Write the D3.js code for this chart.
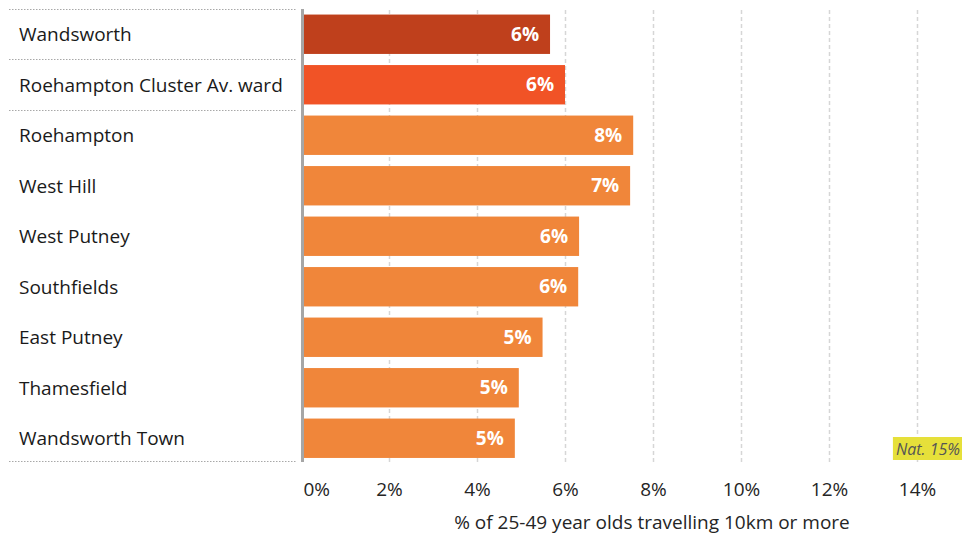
<!DOCTYPE html>
<html><head><meta charset="utf-8">
<script src="https://cdn.jsdelivr.net/npm/d3@7"></script>
<style>
body{margin:0;background:#fff;}
svg{display:block;font-family:"Segoe UI","Open Sans","Noto Sans",sans-serif;}
</style></head><body>
<svg id="c" width="964" height="534"></svg>
<script>
const categories = ["Wandsworth","Roehampton Cluster Av. ward","Roehampton","West Hill","West Putney","Southfields","East Putney","Thamesfield","Wandsworth Town"];
const values = [5.66, 6.0, 7.55, 7.48, 6.32, 6.3, 5.49, 4.95, 4.86];
const barColors = ["#BF401C","#F15326","#F0863A","#F0863A","#F0863A","#F0863A","#F0863A","#F0863A","#F0863A"];
const ticks = [0,2,4,6,8,10,12,14];
const nationalValue = 15;
const nationalLabel = "Nat. 15%";
const axisTitle = "% of 25-49 year olds travelling 10km or more";

const svg = d3.select("#c");
const x = d3.scaleLinear().domain([0,15]).range([301,961]);
const y = d3.scaleBand().domain(categories).range([9.5,463]).paddingInner(0.22).paddingOuter(0.1);

// gridlines
svg.append("g").selectAll("line").data(ticks.filter(t=>t>0)).join("line")
  .attr("x1",d=>x(d)+0.5).attr("x2",d=>x(d)+0.5).attr("y1",10).attr("y2",462)
  .attr("stroke","#d6d6d6").attr("stroke-width",1.5).attr("stroke-dasharray","4,3");

// left dotted separators
const seps = [9, (y(categories[0])+y.bandwidth()+y(categories[1]))/2, (y(categories[1])+y.bandwidth()+y(categories[2]))/2, 461];
svg.append("g").selectAll("line").data(seps).join("line")
  .attr("x1",9).attr("x2",297).attr("y1",d=>Math.round(d)+0.5).attr("y2",d=>Math.round(d)+0.5)
  .attr("stroke","#a8a8a8").attr("stroke-width",1).attr("stroke-dasharray","1.5,1.5");

// bars
svg.append("g").selectAll("rect").data(categories).join("rect")
  .attr("x",x(0)+2).attr("y",d=>y(d))
  .attr("width",(d,i)=>x(values[i])-x(0)-2).attr("height",y.bandwidth())
  .attr("fill",(d,i)=>barColors[i]);

// axis line
svg.append("rect").attr("x",x(0)).attr("y",9).attr("width",3).attr("height",453).attr("fill","#a6a6a6");

// value labels
svg.append("g").selectAll("text").data(categories).join("text")
  .attr("x",(d,i)=>x(values[i])-11).attr("y",d=>y(d)+y.bandwidth()/2)
  .attr("dy","0.35em").attr("text-anchor","end")
  .attr("font-size",19).attr("font-weight","bold").attr("fill","#fff")
  .text((d,i)=>Math.round(values[i])+"%");

// category labels
svg.append("g").selectAll("text").data(categories).join("text")
  .attr("x",19).attr("y",d=>y(d)+y.bandwidth()/2)
  .attr("dy","0.38em").attr("font-size",19).attr("fill","#1a1a1a")
  .text(d=>d);

// x axis
const axis = d3.axisBottom(x).tickValues(ticks).tickFormat(d=>d+"%").tickSize(0).tickPadding(0);
const ag = svg.append("g").attr("transform","translate(0,479)").call(axis);
ag.select(".domain").remove();
ag.selectAll("text").attr("font-size",19).attr("fill","#252525")
  .attr("font-family","'Segoe UI','Open Sans','Noto Sans',sans-serif")
  .attr("dy","0.9em");
ag.selectAll(".tick").filter(d=>d===0).select("text").attr("text-anchor","start").attr("x",2);

svg.append("text").attr("x",652).attr("y",529).attr("text-anchor","middle")
  .attr("font-size",19).attr("fill","#252525").text(axisTitle);

// national marker label
const ng = svg.append("g");
const nt = ng.append("text").attr("x",x(nationalValue)-1).attr("y",449).attr("dy","0.35em")
  .attr("text-anchor","end").attr("font-size",16).attr("font-style","italic").attr("fill","#555")
  .text(nationalLabel);
const bb = nt.node().getBBox();
ng.insert("rect","text").attr("x",bb.x-3).attr("y",437).attr("width",bb.width+5).attr("height",23).attr("fill","#E6E03A");
</script>
</body></html>
